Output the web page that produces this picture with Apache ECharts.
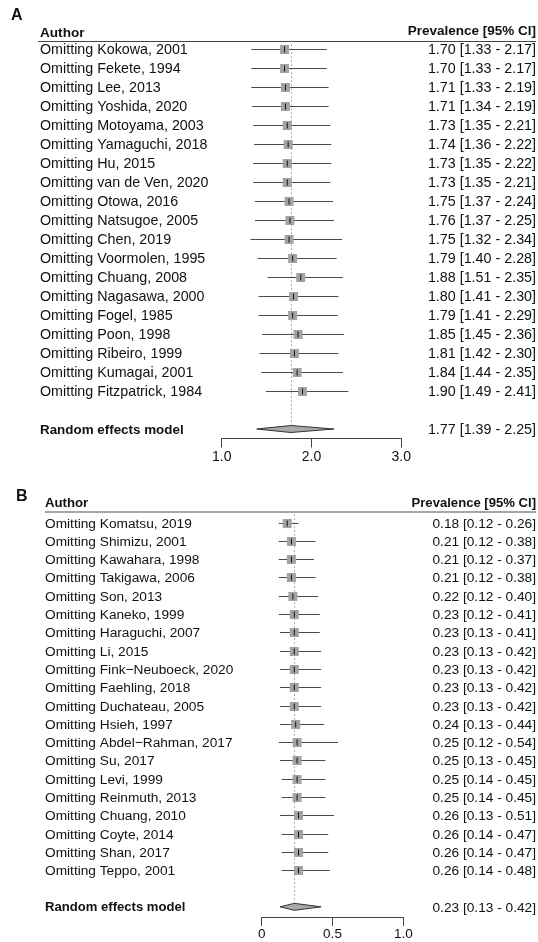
<!DOCTYPE html>
<html>
<head>
<meta charset="utf-8">
<script src="https://cdn.jsdelivr.net/npm/echarts@6/dist/echarts.min.js"></script>
<style>html,body{margin:0;padding:0;background:#fff}#c{width:538px;height:942px}</style>
</head>
<body>
<div id="c"></div>
<script>
// ---------- Panel A data ----------
var authorsA = ["Omitting Kokowa, 2001","Omitting Fekete, 1994","Omitting Lee, 2013","Omitting Yoshida, 2020","Omitting Motoyama, 2003","Omitting Yamaguchi, 2018","Omitting Hu, 2015","Omitting van de Ven, 2020","Omitting Otowa, 2016","Omitting Natsugoe, 2005","Omitting Chen, 2019","Omitting Voormolen, 1995","Omitting Chuang, 2008","Omitting Nagasawa, 2000","Omitting Fogel, 1985","Omitting Poon, 1998","Omitting Ribeiro, 1999","Omitting Kumagai, 2001","Omitting Fitzpatrick, 1984"];
var estA   = [1.70,1.70,1.71,1.71,1.73,1.74,1.73,1.73,1.75,1.76,1.75,1.79,1.88,1.80,1.79,1.85,1.81,1.84,1.90];
var lowerA = [1.33,1.33,1.33,1.34,1.35,1.36,1.35,1.35,1.37,1.37,1.32,1.40,1.51,1.41,1.41,1.45,1.42,1.44,1.49];
var upperA = [2.17,2.17,2.19,2.19,2.21,2.22,2.22,2.21,2.24,2.25,2.34,2.28,2.35,2.30,2.29,2.36,2.30,2.35,2.41];
var pooledA = [1.77, 1.39, 2.25];
var ticksA = [1.0, 2.0, 3.0];

// ---------- Panel B data ----------
var authorsB = ["Omitting Komatsu, 2019","Omitting Shimizu, 2001","Omitting Kawahara, 1998","Omitting Takigawa, 2006","Omitting Son, 2013","Omitting Kaneko, 1999","Omitting Haraguchi, 2007","Omitting Li, 2015","Omitting Fink\u2212Neuboeck, 2020","Omitting Faehling, 2018","Omitting Duchateau, 2005","Omitting Hsieh, 1997","Omitting Abdel\u2212Rahman, 2017","Omitting Su, 2017","Omitting Levi, 1999","Omitting Reinmuth, 2013","Omitting Chuang, 2010","Omitting Coyte, 2014","Omitting Shan, 2017","Omitting Teppo, 2001"];
var estB   = [0.18,0.21,0.21,0.21,0.22,0.23,0.23,0.23,0.23,0.23,0.23,0.24,0.25,0.25,0.25,0.25,0.26,0.26,0.26,0.26];
var lowerB = [0.12,0.12,0.12,0.12,0.12,0.12,0.13,0.13,0.13,0.13,0.13,0.13,0.12,0.13,0.14,0.14,0.13,0.14,0.14,0.14];
var upperB = [0.26,0.38,0.37,0.38,0.40,0.41,0.41,0.42,0.42,0.42,0.42,0.44,0.54,0.45,0.45,0.45,0.51,0.47,0.47,0.48];
var pooledB = [0.23, 0.13, 0.42];
var ticksB = [0, 0.5, 1.0];

var FONT = '"Liberation Sans", Arial, sans-serif';
var fmt = function (v) { return v.toFixed(2); };
var ciText = function (e, l, h) { return fmt(e) + ' [' + fmt(l) + ' - ' + fmt(h) + ']'; };
var TXT_DY = 1;

function studyRenderer(cfg, names) {
  return function (params, api) {
    var i = params.dataIndex;
    var e = api.value(0), l = api.value(1), h = api.value(2), r = api.value(3);
    var pc = api.coord([e, r]), pl = api.coord([l, r]), ph = api.coord([h, r]);
    var y = Math.round(pc[1]) + 0.5;
    var bs = cfg.box;
    return {
      type: 'group',
      children: [
        { type: 'line', shape: { x1: pl[0], y1: y, x2: ph[0], y2: y }, style: { stroke: '#4a4a4a', lineWidth: 1 } },
        { type: 'rect', shape: { x: pc[0] - bs / 2, y: y - bs / 2, width: bs, height: bs }, style: { fill: '#a3a3a3' } },
        { type: 'line', shape: { x1: pc[0], y1: y - 3, x2: pc[0], y2: y + 3 }, style: { stroke: '#111', lineWidth: 1 } },
        { type: 'text', style: { text: names[i], x: cfg.labelX, y: y + TXT_DY, align: 'left', verticalAlign: 'middle', font: cfg.fs + 'px ' + FONT, fill: '#111' } },
        { type: 'text', style: { text: ciText(e, l, h), x: cfg.valX, y: y + TXT_DY, align: 'right', verticalAlign: 'middle', font: cfg.fs + 'px ' + FONT, fill: '#111' } }
      ]
    };
  };
}

function pooledRenderer(cfg) {
  return function (params, api) {
    var e = api.value(0), l = api.value(1), h = api.value(2), r = api.value(3);
    var pc = api.coord([e, r]), pl = api.coord([l, r]), ph = api.coord([h, r]);
    var top = api.coord([e, cfg.dotTop]);
    var y = pc[1];
    var dh = cfg.dh;
    return {
      type: 'group',
      children: [
        { type: 'line', z2: -1, shape: { x1: Math.round(pc[0]) + 0.5, y1: top[1], x2: Math.round(pc[0]) + 0.5, y2: y }, style: { stroke: '#999', lineWidth: 1, lineDash: [1.5, 2.5] } },
        { type: 'polygon', shape: { points: [[pl[0], y], [pc[0], y - dh], [ph[0], y], [pc[0], y + dh]] }, style: { fill: '#a8a8a8', stroke: '#333', lineWidth: 1 } },
        { type: 'text', style: { text: 'Random effects model', x: cfg.labelX, y: y + TXT_DY, align: 'left', verticalAlign: 'middle', font: 'bold ' + cfg.bfs + 'px ' + FONT, fill: '#111' } },
        { type: 'text', style: { text: ciText(e, l, h), x: cfg.valX, y: y + TXT_DY, align: 'right', verticalAlign: 'middle', font: cfg.fs + 'px ' + FONT, fill: '#111' } }
      ]
    };
  };
}

var cfgA = { labelX: 40, valX: 536, fs: 14.3, bfs: 13.4, box: 9, dh: 3.5, dotTop: -0.45 };
var cfgB = { labelX: 45, valX: 536, fs: 13.7, bfs: 13.1, box: 9, dh: 3.5, dotTop: -0.45 };

var dataA = estA.map(function (e, i) { return [e, lowerA[i], upperA[i], i]; });
var dataB = estB.map(function (e, i) { return [e, lowerB[i], upperB[i], i]; });
var rowPoolA = authorsA.length + 1;
var rowPoolB = authorsB.length + 1;

function xAxisCfg(grid, ticks, labelFmt, fs, margin) {
  return {
    type: 'value', gridIndex: grid, min: ticks[0], max: ticks[ticks.length - 1],
    interval: ticks[1] - ticks[0], position: 'bottom',
    axisLine: { show: true, onZero: false, lineStyle: { color: '#444', width: 1 } },
    axisTick: { show: true, length: 9, lineStyle: { color: '#444' } },
    axisLabel: { show: true, margin: margin, formatter: labelFmt, fontFamily: FONT, fontSize: fs, color: '#111' },
    splitLine: { show: false }
  };
}

var option = {
  animation: false,
  backgroundColor: '#fff',
  grid: [
    { left: 221.7, width: 179.6, top: 30, height: 408.5 },
    { left: 261.7, width: 141.6, top: 504.2, height: 412.7 }
  ],
  xAxis: [
    xAxisCfg(0, ticksA, function (v) { return v.toFixed(1); }, 14, 12),
    xAxisCfg(1, ticksB, function (v) { return v === 0 ? '0' : v.toFixed(1); }, 13.5, 10)
  ],
  yAxis: [
    { type: 'value', gridIndex: 0, inverse: true, min: -1, max: 20.5, show: false },
    { type: 'value', gridIndex: 1, inverse: true, min: -1, max: 21.55, show: false }
  ],
  graphic: [
    { type: 'text', x: 11, y: 16, style: { text: 'A', font: 'bold 16px ' + FONT, fill: '#111', verticalAlign: 'middle' } },
    { type: 'text', x: 40, y: 33, style: { text: 'Author', font: 'bold 13.6px ' + FONT, fill: '#111', verticalAlign: 'middle' } },
    { type: 'text', x: 536, y: 31, style: { text: 'Prevalence [95% CI]', font: 'bold 13.5px ' + FONT, fill: '#111', align: 'right', verticalAlign: 'middle' } },
    { type: 'line', shape: { x1: 38, y1: 41.5, x2: 536, y2: 41.5 }, style: { stroke: '#444', lineWidth: 1 } },
    { type: 'text', x: 16, y: 497, style: { text: 'B', font: 'bold 16px ' + FONT, fill: '#111', verticalAlign: 'middle' } },
    { type: 'text', x: 45, y: 503, style: { text: 'Author', font: 'bold 13.2px ' + FONT, fill: '#111', verticalAlign: 'middle' } },
    { type: 'text', x: 536, y: 503, style: { text: 'Prevalence [95% CI]', font: 'bold 13.1px ' + FONT, fill: '#111', align: 'right', verticalAlign: 'middle' } },
    { type: 'line', shape: { x1: 45, y1: 512, x2: 536, y2: 512 }, style: { stroke: '#888', lineWidth: 1.5 } }
  ],
  series: [
    { type: 'custom', xAxisIndex: 0, yAxisIndex: 0, clip: false, renderItem: studyRenderer(cfgA, authorsA), encode: { x: [0, 1, 2], y: 3 }, data: dataA },
    { type: 'custom', xAxisIndex: 0, yAxisIndex: 0, clip: false, renderItem: pooledRenderer(cfgA), encode: { x: [0, 1, 2], y: 3 }, data: [[pooledA[0], pooledA[1], pooledA[2], rowPoolA]] },
    { type: 'custom', xAxisIndex: 1, yAxisIndex: 1, clip: false, renderItem: studyRenderer(cfgB, authorsB), encode: { x: [0, 1, 2], y: 3 }, data: dataB },
    { type: 'custom', xAxisIndex: 1, yAxisIndex: 1, clip: false, renderItem: pooledRenderer(cfgB), encode: { x: [0, 1, 2], y: 3 }, data: [[pooledB[0], pooledB[1], pooledB[2], rowPoolB]] }
  ]
};

var chart = echarts.init(document.getElementById('c'), null, { renderer: 'canvas' });
chart.setOption(option);
</script>
</body>
</html>
